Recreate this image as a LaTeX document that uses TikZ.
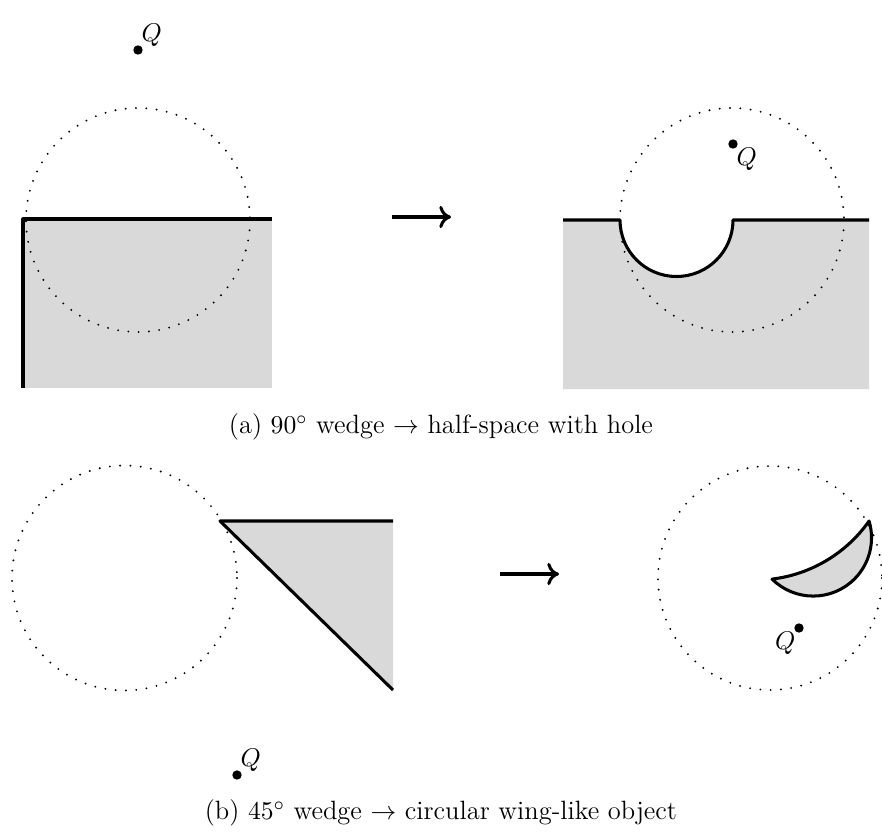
\documentclass[tikz,border=0pt]{standalone}
\usetikzlibrary{arrows.meta}
\begin{document}
\begin{tikzpicture}[x=0.015cm, y=-0.015cm,
  every node/.style={font=\fontsize{11.3pt}{13.6pt}\selectfont},
  wall/.style={line width=1.3pt, line join=round},
  solid region/.style={fill=gray!30},
  sphere/.style={line width=0.9pt, line cap=round, dash pattern=on 0pt off 4.4pt},
  pt/.style={fill=black},
  maps to/.style={-{Computer Modern Rightarrow[width=9.5pt, length=5pt]}, line width=1.3pt}]
  \useasboundingbox (0,0) rectangle (882,836);
  % (a) 90 degree wedge
  \fill[solid region] (23,219) rectangle (272,388);
  \draw[wall] (272,219) -- (23,219) -- (23,388);
  \draw[sphere] (138,220) circle (112);
  \coordinate (Qa) at (138,50);
  \fill[pt] (Qa) circle (2pt);
  \node[above right=-2pt] at (Qa) {$Q$};
  \coordinate (arra1) at (392,217);
  \coordinate (arra2) at (451,217);
  \draw[maps to] (arra1) -- (arra2);
  \fill[solid region] (563,220) -- (620,220) arc (180:0:56.5) -- (869,220)
    -- (869,389) -- (563,389) -- cycle;
  \draw[wall] (563,220) -- (620,220) arc (180:0:56.5) -- (869,220);
  \draw[sphere] (732,220) circle (112);
  \coordinate (Qb) at (733,144);
  \fill[pt] (Qb) circle (2pt);
  \node[below right=-2pt] at (Qb) {$Q$};
  \node (capa) at (441,427) {(a) $90^\circ$ wedge $\rightarrow$ half-space with hole};
  % (b) 45 degree wedge
  \fill[solid region] (220,521) -- (393,521) -- (393,690) -- cycle;
  \draw[wall] (393,521) -- (220,521) -- (393,690);
  \draw[sphere] (124.5,578) circle (112.5);
  \coordinate (Qc) at (237,775);
  \fill[pt] (Qc) circle (2pt);
  \node[above right=-2pt] at (Qc) {$Q$};
  \coordinate (arrb1) at (500,574);
  \coordinate (arrb2) at (559,574);
  \draw[maps to] (arrb1) -- (arrb2);
  \draw[wall, solid region] (772,579) arc (135:-16.7:58.3) arc (35.1:83.1:139) -- cycle;
  \draw[sphere] (770,578) circle (112);
  \coordinate (Qd) at (799,628);
  \fill[pt] (Qd) circle (2pt);
  \node[below left=-2pt] at (Qd) {$Q$};
  \node (capb) at (441,813) {(b) $45^\circ$ wedge $\rightarrow$ circular wing-like object};
\end{tikzpicture}
\end{document}
